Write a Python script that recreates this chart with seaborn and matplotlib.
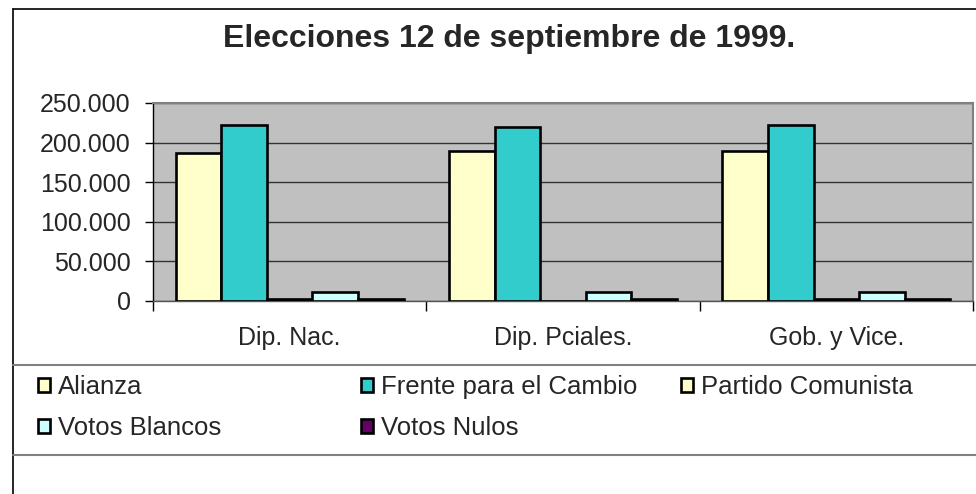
import matplotlib
matplotlib.use("Agg")
from matplotlib import pyplot as plt
from matplotlib.lines import Line2D
from matplotlib.ticker import FuncFormatter, MultipleLocator
import pandas as pd
import seaborn as sns

# data
categories = ["Dip. Nac.", "Dip. Pciales.", "Gob. y Vice."]
series = ["Alianza", "Frente para el Cambio", "Partido Comunista",
          "Votos Blancos", "Votos Nulos"]
alianza = [187000, 189000, 189000]
frente = [222000, 219500, 222000]
comunista = [2000, 0, 2000]
blancos = [10500, 10500, 10500]
nulos = [2000, 2500, 2000]
colors = ["#FFFFCC", "#33CCCC", "#FFFFCC", "#CCFFFF", "#660066"]

values = [alianza, frente, comunista, blancos, nulos]
rows = []
for name, vals in zip(series, values):
    for cat, v in zip(categories, vals):
        rows.append({"cat": cat, "serie": name, "votos": v})
df = pd.DataFrame(rows)

sns.set_style("white")
plt.rcParams["font.family"] = ["Liberation Sans", "DejaVu Sans"]

W, H = 976, 494
fig = plt.figure(figsize=(W / 100, H / 100), dpi=100)
ax = fig.add_axes([153 / W, 1 - 300.7 / H, (973 - 153) / W, (300.7 - 103) / H])
ax.set_facecolor("#C0C0C0")

sns.barplot(data=df, x="cat", y="votos", hue="serie", order=categories,
            hue_order=series, palette=colors, width=0.835, gap=0,
            edgecolor="black", linewidth=1.9, saturation=1, ax=ax, zorder=3)

handles, labels = ax.get_legend_handles_labels()
ax.get_legend().remove()

ax.set_ylim(0, 250000)
ax.set_xlim(-0.5, 2.5)
ax.yaxis.set_major_locator(MultipleLocator(50000))
ax.yaxis.set_major_formatter(FuncFormatter(lambda v, p: f"{int(v):,}".replace(",", ".")))
ax.grid(axis="y", color="#333333", linewidth=1, zorder=1)
ax.set_axisbelow(True)
ax.set_xlabel("")
ax.set_ylabel("")

ax.tick_params(axis="y", length=6, width=1, color="black", pad=10, labelsize=18, direction="out", left=True)
ax.tick_params(axis="x", which="major", length=0, pad=18, labelsize=18)
ax.set_xticks([-0.5, 0.5, 1.5, 2.5], minor=True)
ax.tick_params(axis="x", which="minor", length=7, width=1, color="black", direction="out", bottom=True)

for side in ["top", "right"]:
    ax.spines[side].set_color("#808080")
    ax.spines[side].set_linewidth(1.5)
ax.spines["left"].set_color("black")
ax.spines["bottom"].set_color("#555555")
ax.spines["left"].set_linewidth(1)
ax.spines["bottom"].set_linewidth(1)

fig.text(509 / W, 1 - 39 / H, "Elecciones 12 de septiembre de 1999.",
         ha="center", va="center", fontsize=23, fontweight="bold")

# chart frame and legend separators
fig.add_artist(Line2D([13 / W, 1], [1 - 9 / H, 1 - 9 / H], color="black", linewidth=1.2))
fig.add_artist(Line2D([13 / W, 13 / W], [0, 1 - 9 / H], color="black", linewidth=1.2))
for yy in [364.5, 455]:
    fig.add_artist(Line2D([13 / W, 1], [1 - yy / H, 1 - yy / H], color="#808080", linewidth=1.5))

# legend in three columns
cols = [([0, 3], 38), ([1, 4], 361), ([2], 681)]
for idx, xpos in cols:
    fig.legend([handles[i] for i in idx], [labels[i] for i in idx],
               loc="upper left", bbox_to_anchor=(xpos / W, 1 - 375 / H),
               frameon=False, fontsize=18.5, borderpad=0, borderaxespad=0,
               handlelength=0.47, handleheight=0.47, handletextpad=0.3,
               labelspacing=0.66)

fig.savefig("out.png", dpi=100)
